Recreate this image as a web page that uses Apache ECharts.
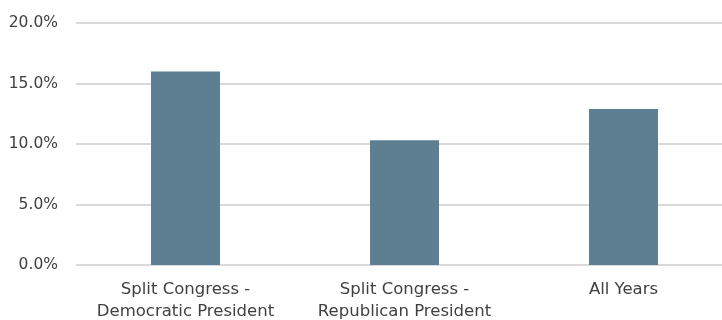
<!DOCTYPE html>
<html>
<head>
<meta charset="utf-8">
<script src="https://cdn.jsdelivr.net/npm/echarts@6/dist/echarts.min.js"></script>
<style>
  html, body { margin: 0; padding: 0; background: #fff; }
  #chart { width: 722px; height: 320px; }
</style>
</head>
<body>
<div id="chart"></div>
<script>
// Share of years, by control of Congress and the presidency
const categories = ['Split Congress -\nDemocratic President', 'Split Congress -\nRepublican President', 'All Years'];
const values = [16.0, 10.3, 12.9];
const yTicks = [0, 5, 10, 15, 20];

const labelFont = 'DejaVu Sans';

const chart = echarts.init(document.getElementById('chart'));
chart.setOption({
  animation: false,
  grid: {
    left: 76, top: 23, right: -11, bottom: 55,
    containLabel: false,
    outerBoundsMode: 'none'
  },
  xAxis: {
    type: 'category',
    data: categories,
    axisLine: { show: false },
    axisTick: { show: false },
    axisLabel: {
      interval: 0,
      hideOverlap: false,
      color: '#404040',
      fontFamily: labelFont,
      fontSize: 16.5,
      lineHeight: 22,
      margin: 14
    }
  },
  yAxis: {
    type: 'value',
    min: yTicks[0],
    max: yTicks[yTicks.length - 1],
    interval: 5,
    axisLine: { show: false },
    axisTick: { show: false },
    splitLine: { lineStyle: { color: '#d9d9d9', width: 2 } },
    axisLabel: {
      color: '#404040',
      fontFamily: labelFont,
      fontSize: 15.5,
      margin: 18,
      formatter: v => v.toFixed(1) + '%'
    }
  },
  series: [{
    type: 'bar',
    data: values,
    barWidth: 69,
    itemStyle: { color: '#5d7f91' }
  }]
});
</script>
</body>
</html>
